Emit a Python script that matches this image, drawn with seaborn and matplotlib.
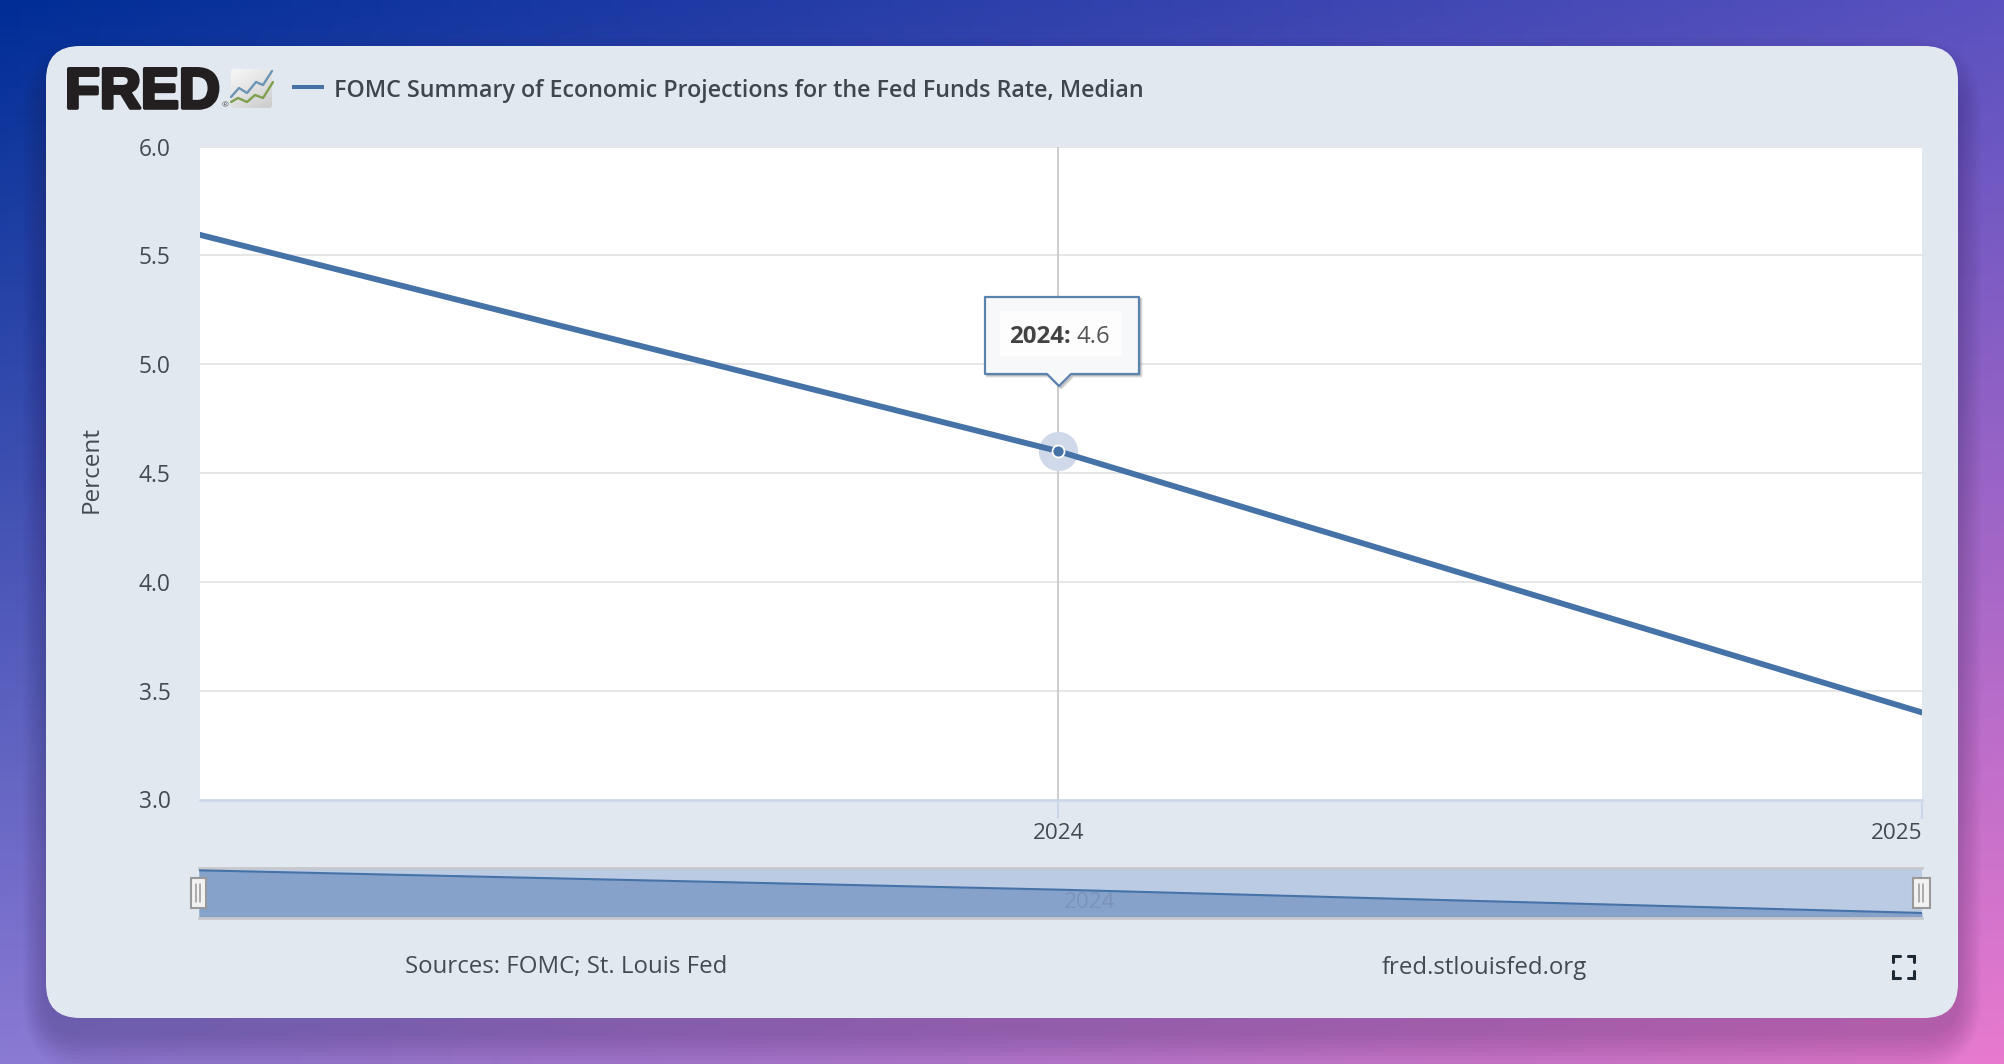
import numpy as np
import pandas as pd
import matplotlib
matplotlib.use("Agg")
import matplotlib.pyplot as plt
import matplotlib.patheffects as pe
from matplotlib.patches import FancyBboxPatch, Rectangle, Polygon
import seaborn as sns

# Data
years = [2023, 2024, 2025]
fed_funds = [5.6, 4.6, 3.4]
y_ticks = [3.0, 3.5, 4.0, 4.5, 5.0, 5.5, 6.0]
x_ticks = [2024, 2025]
hover_year = 2024
hover_value = 4.6

series_name = "FOMC Summary of Economic Projections for the Fed Funds Rate, Median"
source_text = "Sources: FOMC; St. Louis Fed"
site_text = "fred.stlouisfed.org"

df = pd.DataFrame({"year": years, "rate": fed_funds})

LINE = "#4572a7"
CARD = "#e1e8f0"
TEXT = "#434a50"
W, H = 2004, 1064

sns.set_theme(style="white")
plt.rcParams["font.family"] = ["Open Sans", "DejaVu Sans"]

fig = plt.figure(figsize=(W / 100, H / 100), dpi=100)


def box(left, top, right, bottom):
    # pixel box -> figure fraction
    return [left / W, 1 - bottom / H, (right - left) / W, (bottom - top) / H]


# ===============================
# Background, card, header
# ===============================
bg = fig.add_axes([0, 0, 1, 1], zorder=0)
bg.set_xlim(0, W)
bg.set_ylim(H, 0)
bg.axis("off")

tl, tr = np.array([0, 46, 150]), np.array([90, 82, 192])
bl, br = np.array([138, 122, 212]), np.array([232, 122, 206])
u = np.linspace(0, 1, 200)[None, :, None]
v = np.linspace(0, 1, 120)[:, None, None]
grad = (tl * (1 - u) + tr * u) * (1 - v) + (bl * (1 - u) + br * u) * v
bg.imshow(grad / 255, extent=(0, W, H, 0), aspect="auto", zorder=0)

for grow in range(2, 42, 4):
    bg.add_patch(FancyBboxPatch((46 - grow * 0.6, 76 - grow), 1912 + 1.2 * grow, 964 + 2 * grow - 6,
                                boxstyle="round,pad=0,rounding_size=%d" % (34 + grow),
                                fc="#20103a", ec="none", alpha=0.022, zorder=1))
bg.add_patch(FancyBboxPatch((46, 46), 1912, 972, boxstyle="round,pad=0,rounding_size=34",
                            fc=CARD, ec="none", zorder=2))

# FRED logo
bg.text(65, 108, "FRED", fontsize=41, family="Liberation Sans", fontweight="bold", color="#231f20",
        va="baseline", ha="left", zorder=3,
        path_effects=[pe.withStroke(linewidth=2.6, foreground="#231f20")])
bg.text(225, 106, "®", fontsize=6, color="#555555", ha="center", va="center", zorder=3)

icon = np.linspace(0, 1, 60)[:, None] * 0.6 + np.linspace(0, 1, 60)[None, :] * 0.4
icon_img = bg.imshow(icon, extent=(231, 272, 108, 69), cmap="gray_r", vmin=-0.18, vmax=5.7,
                     aspect="auto", zorder=3)
icon_img.set_clip_path(FancyBboxPatch((231, 69), 41, 39, boxstyle="round,pad=0,rounding_size=3",
                                      transform=bg.transData))
bg.plot([231, 239, 247, 256, 263, 272], [97, 88, 93, 82, 85, 71], color="#6b95b5", lw=1.7, zorder=4)
bg.plot([231, 238, 247, 255, 263, 273], [102, 98, 102, 95, 98, 82], color="#7fa04f", lw=1.7, zorder=4)
bg.set_xlim(0, W)
bg.set_ylim(H, 0)

# Legend
bg.plot([292, 324], [87, 87], color=LINE, lw=2.9, solid_capstyle="butt", zorder=3)
bg.text(334, 91, series_name, fontsize=16.77, fontweight=600, color="#3f464c", va="center", ha="left", zorder=3)

# Footer
bg.text(405, 967.5, source_text, fontsize=17.3, color=TEXT, va="center", ha="left", zorder=3)
bg.text(1382, 967.5, site_text, fontsize=17.3, color=TEXT, va="center", ha="left", zorder=3)
for cx, cy, sx, sy in [(1892, 954, 1, 1), (1916, 954, -1, 1), (1892, 979, 1, -1), (1916, 979, -1, -1)]:
    bg.plot([cx + 8 * sx, cx + 1.5 * sx, cx + 1.5 * sx], [cy + 1.5 * sy, cy + 1.5 * sy, cy + 8 * sy],
            color="#1d2935", lw=2.2, solid_joinstyle="miter", zorder=3)

# ===============================
# Main chart
# ===============================
ax = fig.add_axes(box(200, 146.5, 1922, 799.5), zorder=1)
ax.set_facecolor("white")
sns.lineplot(data=df, x="year", y="rate", ax=ax, color=LINE, linewidth=4.2, zorder=4)
ax.set_xlim(2023.006, 2025)
ax.set_ylim(3.0, 6.0)
ax.set_yticks(y_ticks)
ax.set_yticklabels(["%.1f" % t for t in y_ticks])
ax.set_xticks(x_ticks)
ax.set_xticklabels([str(t) for t in x_ticks])
ax.grid(axis="y", color="#e6e6e6", linewidth=1.4)
ax.grid(axis="x", visible=False)
ax.set_axisbelow(True)
ax.tick_params(axis="y", length=0, labelsize=16.4, labelcolor=TEXT, pad=21)
ax.tick_params(axis="x", length=14, width=1.5, color="#ccd6eb", labelsize=16.2, labelcolor=TEXT, pad=3, bottom=True)
labels = ax.get_xticklabels()
labels[1].set_ha("right")
ax.set_xlabel("")
ax.set_ylabel("Percent", fontsize=17.5, color=TEXT, labelpad=0)
ax.yaxis.set_label_coords(-(200 - 104) / 1722, 1 - (470 - 147) / 653)
for name in ["top", "left", "right"]:
    ax.spines[name].set_visible(False)
ax.spines["bottom"].set_color("#ccd6eb")
ax.spines["bottom"].set_linewidth(1.8)

ax.axvline(hover_year, color="#c8c8c8", linewidth=1.3, zorder=2)
ax.scatter([hover_year], [hover_value], s=800, color="#d0d9ea", linewidths=0, zorder=3)
ax.scatter([hover_year], [hover_value], s=75, color=LINE, edgecolors="white", linewidths=1.3, zorder=5)

# ===============================
# Navigator
# ===============================
nav = fig.add_axes(box(199, 868, 1922, 918), zorder=1)
nav.set_facecolor("#bccbe4")
nav.fill_between(years, fed_funds, 3.14, color="#86a2cb", linewidth=0, zorder=1)
sns.lineplot(data=df, x="year", y="rate", ax=nav, color=LINE, linewidth=1.5, zorder=3)
nav.set_xlim(2023, 2025)
nav.set_ylim(3.14, 5.72)
nav.set_xticks([])
nav.set_yticks([])
nav.set_xlabel("")
nav.set_ylabel("")
nav.spines["left"].set_visible(False)
nav.spines["right"].set_visible(False)
for name in ["top", "bottom"]:
    nav.spines[name].set_color("#c6c8cd")
    nav.spines[name].set_linewidth(2)

# ===============================
# Overlay: tooltip, navigator handles
# ===============================
over = fig.add_axes([0, 0, 1, 1], zorder=3)
over.set_xlim(0, W)
over.set_ylim(H, 0)
over.axis("off")
over.patch.set_alpha(0)

tip = [(985, 297), (1139, 297), (1139, 374), (1071, 374), (1059, 386), (1047, 374), (985, 374)]
over.add_patch(Polygon([(x + 2, y + 2) for x, y in tip], closed=True, fc="#555555", ec="#555555",
                       lw=2, alpha=0.22, joinstyle="round"))
over.add_patch(Polygon(tip, closed=True, fc="#f7f8f9", ec="#5a83ae", lw=1.6, joinstyle="round"))
over.add_patch(Rectangle((1000, 311), 122, 45, fc="#fdfdfd", ec="none"))
over.text(1009, 337, "2024:", fontsize=17.3, fontweight="bold", color="#434343", va="center", ha="left")
over.text(1077, 337, "4.6", fontsize=17.3, color="#555555", va="center", ha="left")

over.text(1090, 903, "2024", fontsize=16.2, color="#7b93b9", va="center", ha="center")
for left, right in [(191, 206), (1913, 1930)]:
    over.add_patch(Rectangle((left, 878), right - left, 30, fc="#f2f2f2", ec="#999999", lw=1.5))
    mid = (left + right) / 2
    over.plot([mid - 2, mid - 2], [884, 902], color="#999999", lw=1.1)
    over.plot([mid + 2, mid + 2], [884, 902], color="#999999", lw=1.1)

fig.savefig("out.png", dpi=100)
